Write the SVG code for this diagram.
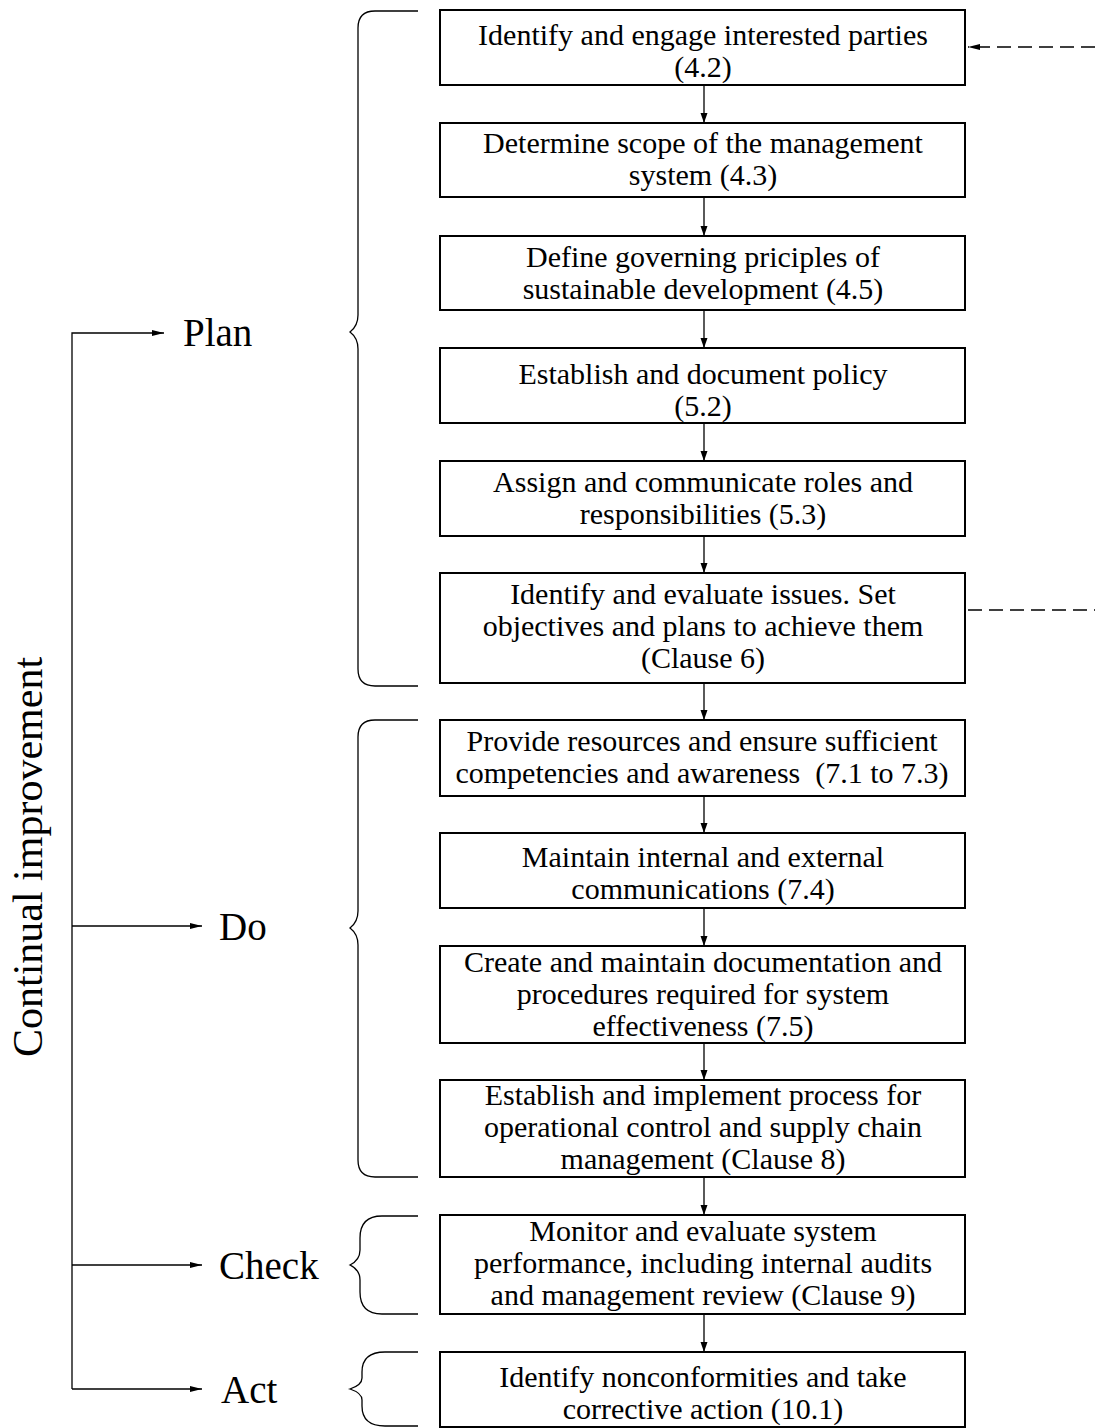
<svg xmlns="http://www.w3.org/2000/svg" width="1095" height="1428" viewBox="0 0 1095 1428">
<defs>
<marker id="ah" markerWidth="10" markerHeight="12" refX="9" refY="6" orient="auto" markerUnits="userSpaceOnUse">
<path d="M0,2.5 L10,6 L0,9.5 Z" fill="#000"/>
</marker>
<marker id="ahs" markerWidth="12" markerHeight="8" refX="12" refY="4" orient="auto" markerUnits="userSpaceOnUse">
<path d="M0,1 L12,4 L0,7 Z" fill="#000"/>
</marker>
</defs>
<style>
.box{fill:#fff;stroke:#000;stroke-width:2}
.t{font-family:"Liberation Serif","Times New Roman",serif;font-size:30px;text-anchor:middle;fill:#000}
.lbl{font-family:"Liberation Serif","Times New Roman",serif;font-size:39px;fill:#000}
.br{fill:none;stroke:#000;stroke-width:1.3}
.ar{stroke:#000;stroke-width:1.3;fill:none}
.dash{stroke:#000;stroke-width:1.3;stroke-dasharray:14,7;fill:none}
</style>
<rect width="1095" height="1428" fill="#fff"/>
<g id="connectors">
<line class="ar" x1="704" y1="85" x2="704" y2="122" marker-end="url(#ah)"/>
<line class="ar" x1="704" y1="197" x2="704" y2="235" marker-end="url(#ah)"/>
<line class="ar" x1="704" y1="310" x2="704" y2="347" marker-end="url(#ah)"/>
<line class="ar" x1="704" y1="423" x2="704" y2="460" marker-end="url(#ah)"/>
<line class="ar" x1="704" y1="536" x2="704" y2="572" marker-end="url(#ah)"/>
<line class="ar" x1="704" y1="683" x2="704" y2="719" marker-end="url(#ah)"/>
<line class="ar" x1="704" y1="796" x2="704" y2="832" marker-end="url(#ah)"/>
<line class="ar" x1="704" y1="908" x2="704" y2="945" marker-end="url(#ah)"/>
<line class="ar" x1="704" y1="1043" x2="704" y2="1079" marker-end="url(#ah)"/>
<line class="ar" x1="704" y1="1177" x2="704" y2="1214" marker-end="url(#ah)"/>
<line class="ar" x1="704" y1="1314" x2="704" y2="1351" marker-end="url(#ah)"/>
<line class="dash" x1="1095" y1="47" x2="968" y2="47" marker-end="url(#ahs)"/>
<line class="dash" x1="968" y1="610" x2="1095" y2="610"/>
<polyline class="ar" points="72,1389 72,333 164,333" marker-end="url(#ahs)"/>
<line class="ar" x1="72" y1="926" x2="202" y2="926" marker-end="url(#ahs)"/>
<line class="ar" x1="72" y1="1265" x2="202" y2="1265" marker-end="url(#ahs)"/>
<line class="ar" x1="72" y1="1389" x2="202" y2="1389" marker-end="url(#ahs)"/>
</g>
<g id="braces">
<path class="br" d="M418,11 H375 Q358,11 358,28 V315 Q358,326 350,332 Q358,338 358,349 V669 Q358,686 375,686 H418"/>
<path class="br" d="M418,720 H375 Q358,720 358,737 V911 Q358,922 350,928 Q358,934 358,945 V1160 Q358,1177 375,1177 H418"/>
<path class="br" d="M418,1216 H382 Q360,1216 360,1238 V1250 Q360,1260 350,1265 Q360,1270 360,1280 V1292 Q360,1314 382,1314 H418"/>
<path class="br" d="M418,1352 H385 Q362,1352 362,1372 V1378 Q362,1385 350,1389 Q362,1393 362,1400 V1406 Q362,1426 385,1426 H418"/>
</g>
<g id="labels">
<text class="lbl" x="183" y="346">Plan</text>
<text class="lbl" x="219" y="940">Do</text>
<text class="lbl" x="219" y="1279">Check</text>
<text class="lbl" x="221" y="1403">Act</text>
<text class="lbl" transform="translate(42,857) rotate(-90)" text-anchor="middle" style="font-size:42px">Continual improvement</text>
</g>
<g id="n1"><rect class="box" x="440" y="10" width="525" height="75"/><text class="t" x="703" y="45">Identify and engage interested parties</text><text class="t" x="703" y="77">(4.2)</text></g>
<g id="n2"><rect class="box" x="440" y="123" width="525" height="74"/><text class="t" x="703" y="153">Determine scope of the management</text><text class="t" x="703" y="185">system (4.3)</text></g>
<g id="n3"><rect class="box" x="440" y="236" width="525" height="74"/><text class="t" x="703" y="267">Define governing priciples of</text><text class="t" x="703" y="299">sustainable development (4.5)</text></g>
<g id="n4"><rect class="box" x="440" y="348" width="525" height="75"/><text class="t" x="703" y="384">Establish and document policy</text><text class="t" x="703" y="416">(5.2)</text></g>
<g id="n5"><rect class="box" x="440" y="461" width="525" height="75"/><text class="t" x="703" y="492">Assign and communicate roles and</text><text class="t" x="703" y="524">responsibilities (5.3)</text></g>
<g id="n6"><rect class="box" x="440" y="573" width="525" height="110"/><text class="t" x="703" y="604">Identify and evaluate issues. Set</text><text class="t" x="703" y="636">objectives and plans to achieve them</text><text class="t" x="703" y="668">(Clause 6)</text></g>
<g id="n7"><rect class="box" x="440" y="720" width="525" height="76"/><text class="t" x="702" y="751">Provide resources and ensure sufficient</text><text class="t" x="702" y="783" xml:space="preserve">competencies and awareness  (7.1 to 7.3)</text></g>
<g id="n8"><rect class="box" x="440" y="833" width="525" height="75"/><text class="t" x="703" y="867">Maintain internal and external</text><text class="t" x="703" y="899">communications (7.4)</text></g>
<g id="n9"><rect class="box" x="440" y="946" width="525" height="97"/><text class="t" x="703" y="972">Create and maintain documentation and</text><text class="t" x="703" y="1004">procedures required for system</text><text class="t" x="703" y="1036">effectiveness (7.5)</text></g>
<g id="n10"><rect class="box" x="440" y="1080" width="525" height="97"/><text class="t" x="703" y="1105">Establish and implement process for</text><text class="t" x="703" y="1137">operational control and supply chain</text><text class="t" x="703" y="1169">management (Clause 8)</text></g>
<g id="n11"><rect class="box" x="440" y="1215" width="525" height="99"/><text class="t" x="703" y="1241">Monitor and evaluate system</text><text class="t" x="703" y="1273">performance, including internal audits</text><text class="t" x="703" y="1305">and management review (Clause 9)</text></g>
<g id="n12"><rect class="box" x="440" y="1352" width="525" height="75"/><text class="t" x="703" y="1387">Identify nonconformities and take</text><text class="t" x="703" y="1419">corrective action (10.1)</text></g>
</svg>
